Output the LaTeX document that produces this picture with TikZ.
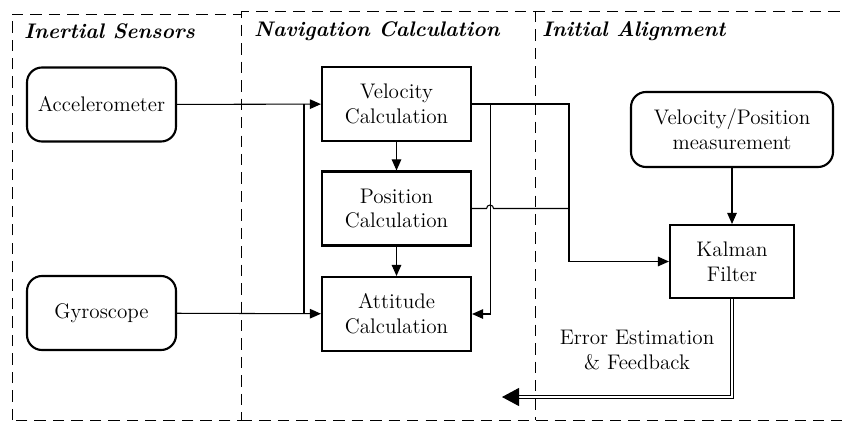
\documentclass[tikz,border=0pt]{standalone}
\usepackage{tikz}
\usetikzlibrary{arrows.meta, calc}

\begin{document}
\begin{tikzpicture}[>={Triangle[length=0.22cm,width=0.19cm]},
	font=\fontsize{12}{14.2}\selectfont,
	block/.style={draw, line width=1.2pt, minimum width=2.98cm, minimum height=1.48cm, align=center},
	sensor/.style={block, rounded corners=0.3cm},
	frame/.style={line width=0.5pt, dash pattern=on 6.5pt off 4pt},
	head/.style={anchor=west, font=\fontsize{12}{14}\selectfont\bfseries\itshape},
	link/.style={line width=0.6pt}]
	\useasboundingbox (0,0) rectangle (16.84,8.42);
	% Frames
	\draw[frame] (0.24,0.02) rectangle (4.82,8.14);
	\draw[frame] (4.82,8.14) -- (4.82,8.2) -- (16.84,8.2);
	\draw[frame] (4.82,0.02) -- (16.84,0.02);
	\draw[frame] (10.70,8.2) -- (10.70,0.02);
	\node[head] (hsens) at (0.36,7.8) {Inertial Sensors};
	\node[head] (hnav) at (4.96,7.8) {Navigation Calculation};
	\node[head] (halign) at (10.72,7.8) {Initial Alignment};
	
	% Blocks
	\node[sensor] (acc) at (2.03,6.33) {Accelerometer};
	\node[sensor] (gyro) at (2.03,2.16) {Gyroscope};
	\node[block] (vel) at (7.93,6.34) {Velocity\\Calculation};
	\node[block] (pos) at (7.93,4.25) {Position\\Calculation};
	\node[block] (att) at (7.93,2.14) {Attitude\\Calculation};
	\node[sensor, minimum width=4.04cm, minimum height=1.5cm] (meas) at (14.64,5.83) {Velocity/Position\\measurement};
	\node[block, minimum width=2.48cm, minimum height=1.46cm] (kal) at (14.64,3.19) {Kalman\\Filter};
	
	\coordinate (spl) at (6.08,0);
	\coordinate (kx) at (11.38,0);
	\coordinate (fb) at (10.04,0.48);
	% Links
	\draw[link,->] (acc) -- (vel);
	\draw[link,->] (gyro) -- (att);
	\draw[link] (spl |- vel.west) -- (spl |- att.west);
	\draw[link,->] (vel) -- (pos);
	\draw[link,->] (pos) -- (att);
	\draw[link,->] (vel.east) -- ++(0.36,0) |- (att.east);
	\draw[link,->] (vel.east) -- (kx |- vel.east) |- (kal.west);
	\draw[link] (pos.east) -- ($(pos.east)+(0.29,0)$) arc (180:0:0.07) -- (kx |- pos.east);
	\draw[link,->] (meas) -- (kal);
	\draw[line width=0.5pt, double, double distance=1.3pt, -{Triangle[length=0.34cm,width=0.36cm]}] (kal.south) |- (fb);
	\node[align=center] (err) at (12.74,1.41) {Error Estimation\\\& Feedback};
\end{tikzpicture}
\end{document}
